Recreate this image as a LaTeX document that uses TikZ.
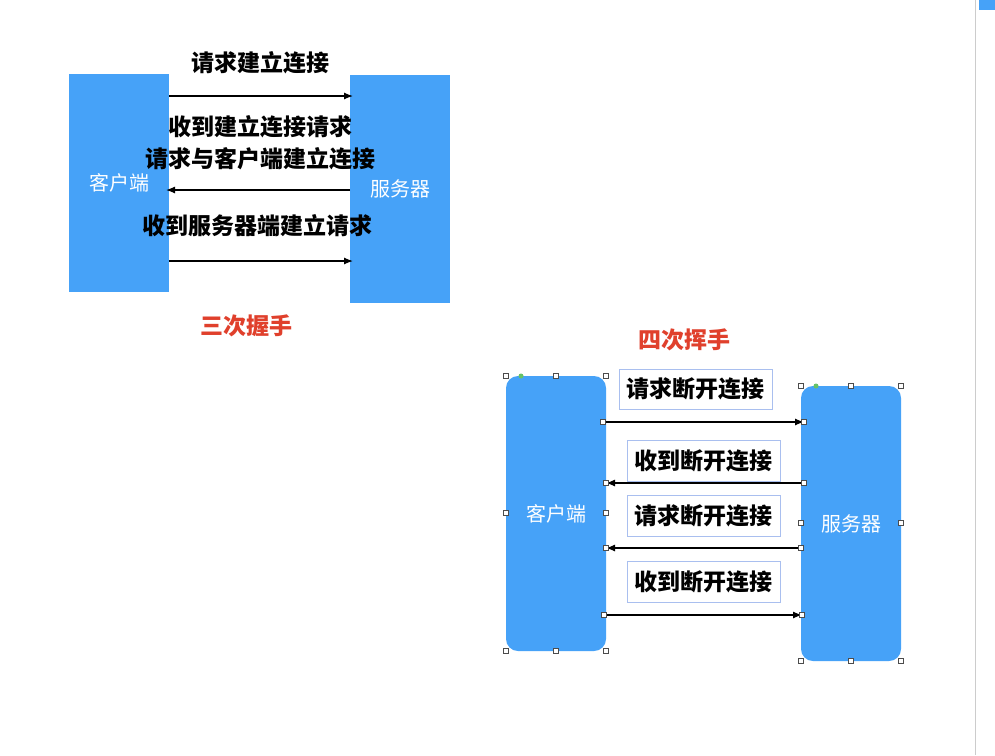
\documentclass[tikz,border=0pt]{standalone}
\usepackage{fontspec}
\setmainfont{Noto Sans CJK SC}
\usetikzlibrary{positioning,arrows.meta}
\definecolor{boxblue}{HTML}{46A2F8}
\definecolor{titlered}{HTML}{E0402C}
\definecolor{framblue}{HTML}{A9BFEF}
\tikzset{
  party/.style={fill=boxblue, text=white, font=\fontsize{20}{20}\selectfont, inner sep=0pt},
  msg/.style={font=\fontsize{23}{23}\selectfont\bfseries, inner sep=0pt},
  msgframe/.style={draw=framblue, line width=0.8pt, msg, minimum width=153pt, minimum height=40pt},
  title/.style={text=titlered, font=\fontsize{23}{23}\selectfont\bfseries},
  handle/.style={draw=black!70, fill=white, line width=0.5pt, minimum size=5pt, inner sep=0pt},
  link/.style={line width=1.2pt, -{Latex[length=9pt,width=7pt]}}
}
\begin{document}
\begin{tikzpicture}[x=1pt,y=-1pt]
        \useasboundingbox (0,0) rectangle (995,755);
        \fill[white] (0,0) rectangle (995,755);
        \draw[black!20] (975,0) -- (975,755);
        \fill[boxblue] (979,0) rectangle (995,10);

        %Three-way handshake
        \node[party, minimum width=100pt, minimum height=218pt] (cl) at (119,183) {客户端};
        \node[party, minimum width=100pt, minimum height=228pt] (sv) at (400,189) {服务器};
        \coordinate (a1) at (169,96);  \coordinate (b1) at (353,96);
        \coordinate (a2) at (350,190); \coordinate (b2) at (166,190);
        \coordinate (a3) at (169,261); \coordinate (b3) at (353,261);
        \draw[link] (a1) -- (b1);
        \draw[link] (a2) -- (b2);
        \draw[link] (a3) -- (b3);
        \node[msg] (m1) at (260,63) {请求建立连接};
        \node[msg] (m2) at (260,127) {收到建立连接请求};
        \node[msg] (m3) at (260,159) {请求与客户端建立连接};
        \node[msg] (m4) at (257,226) {收到服务器端建立请求};
        \node[title] (t1) at (246,326) {三次握手};

        %Four-way wave
        \node[title] (t2) at (684,340) {四次挥手};
        \node[party, rounded corners=12pt, minimum width=100pt, minimum height=275pt] (cr) at (556,513.5) {客户端};
        \node[party, rounded corners=12pt, minimum width=100pt, minimum height=275pt] (sr) at (851,523.5) {服务器};
        \node[msgframe] (f1) at (695.5,389) {请求断开连接};
        \node[msgframe, minimum height=41pt] (f2) at (703.5,461) {收到断开连接};
        \node[msgframe, minimum height=41pt] (f3) at (703.5,515.5) {请求断开连接};
        \node[msgframe, minimum height=41pt] (f4) at (703.5,581.5) {收到断开连接};
        \coordinate (c1) at (603,422); \coordinate (d1) at (804,422);
        \coordinate (c2) at (804,483); \coordinate (d2) at (606,483);
        \coordinate (c3) at (801,548); \coordinate (d3) at (606,548);
        \coordinate (c4) at (604,615); \coordinate (d4) at (802,615);
        \draw[link] (c1) -- (d1);
        \draw[link] (c2) -- (d2);
        \draw[link] (c3) -- (d3);
        \draw[link] (c4) -- (d4);

        %Selection handles
        \foreach \p in {(506,376),(556,376),(606,376),(506,513),(606,513),(506,651),(556,651),(606,651),
                        (801,386),(851,386),(901,386),(801,523),(901,523),(801,661),(851,661),(901,661)}
          \node[handle] at \p {};
        \foreach \c in {c1,d1,c2,d2,c3,d3,c4,d4}
          \node[handle] at (\c) {};
        \fill[green!60!black!60] (521,376) circle (2.5pt) (816,386) circle (2.5pt);
\end{tikzpicture}
\end{document}
